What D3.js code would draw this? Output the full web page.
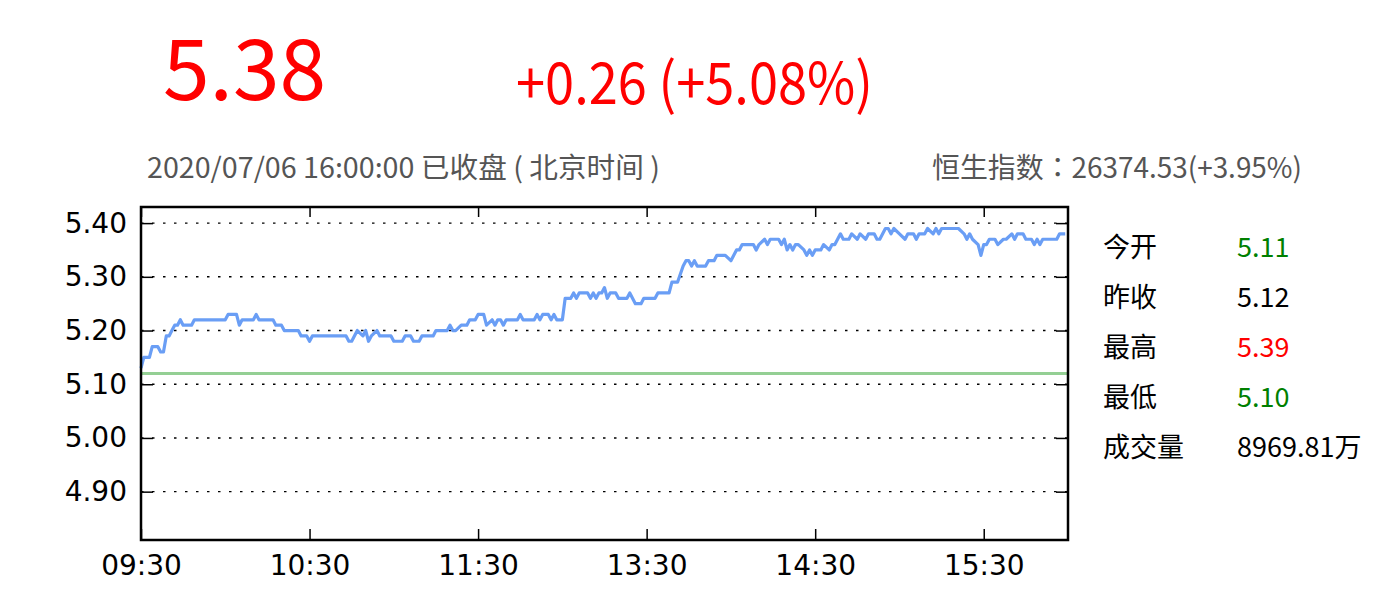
<!DOCTYPE html>
<html>
<head>
<meta charset="utf-8">
<script src="https://cdn.jsdelivr.net/npm/d3@7"></script>
<style>
  body { margin: 0; background: #fff; }
  .cjk { font-family: "Noto Sans CJK SC", "Noto Sans", sans-serif; }
  .cjk-tc { font-family: "Noto Sans CJK TC", "Noto Sans CJK SC", sans-serif; }
  .gfx__axis text { font-family: "DejaVu Sans", sans-serif; font-size: 28px; fill: #000; }
</style>
</head>
<body>
<svg id="quote-chart" width="1400" height="600"></svg>
<script>
// intraday quote, one point per price change
const times = [
  "09:30","09:31","09:33","09:34","09:36","09:37","09:38","09:39","09:40","09:41",
  "09:42","09:43","09:44","09:45","09:48","09:49","10:00","10:01","10:04","10:05",
  "10:06","10:10","10:11","10:12","10:17","10:18","10:20","10:21","10:26","10:27",
  "10:29","10:30","10:31","10:43","10:44","10:45","10:47","10:49","10:50","10:51",
  "10:52","10:54","10:55","10:59","11:00","11:03","11:04","11:06","11:07","11:09",
  "11:10","11:14","11:15","11:19","11:20","11:21","11:22","11:24","11:26","11:27",
  "11:29","11:30","11:32","11:33","11:35","11:36","11:37","11:38","11:39","11:40",
  "11:44","11:45","11:46","11:50","11:51","11:52","11:53","11:55","11:56","11:57",
  "11:58","12:00","13:01","13:03","13:04","13:05","13:06","13:09","13:10","13:11",
  "13:12","13:13","13:14","13:15","13:16","13:17","13:19","13:20","13:23","13:24",
  "13:26","13:28","13:29","13:33","13:34","13:38","13:39","13:41","13:43","13:44",
  "13:45","13:46","13:47","13:48","13:51","13:52","13:54","13:55","13:58","14:00",
  "14:02","14:03","14:04","14:08","14:09","14:10","14:12","14:13","14:14","14:17",
  "14:18","14:19","14:20","14:21","14:22","14:23","14:24","14:26","14:27","14:28",
  "14:29","14:30","14:32","14:33","14:35","14:36","14:37","14:39","14:40","14:42",
  "14:43","14:45","14:46","14:48","14:49","14:51","14:52","14:53","14:55","14:56",
  "14:57","14:58","15:00","15:02","15:03","15:05","15:06","15:07","15:09","15:10",
  "15:12","15:13","15:14","15:15","15:21","15:23","15:24","15:25","15:26","15:28",
  "15:29","15:30","15:31","15:32","15:34","15:35","15:37","15:38","15:40","15:41",
  "15:42","15:44","15:45","15:47","15:48","15:49","15:50","15:51","15:56","15:57",
  "15:59"
];
const prices = [
  5.13,5.15,5.15,5.17,5.17,5.16,5.16,5.19,5.19,5.20,
  5.21,5.21,5.22,5.21,5.21,5.22,5.22,5.23,5.23,5.21,
  5.22,5.22,5.23,5.22,5.22,5.21,5.21,5.20,5.20,5.19,
  5.19,5.18,5.19,5.19,5.18,5.18,5.20,5.19,5.20,5.18,
  5.19,5.20,5.19,5.19,5.18,5.18,5.19,5.19,5.18,5.18,
  5.19,5.19,5.20,5.20,5.21,5.20,5.20,5.21,5.21,5.22,
  5.22,5.23,5.23,5.21,5.22,5.21,5.22,5.22,5.21,5.22,
  5.22,5.23,5.22,5.22,5.23,5.22,5.23,5.23,5.22,5.23,
  5.22,5.22,5.26,5.26,5.27,5.26,5.27,5.27,5.26,5.27,
  5.26,5.27,5.27,5.28,5.26,5.27,5.27,5.26,5.26,5.27,
  5.25,5.25,5.26,5.26,5.27,5.27,5.29,5.29,5.32,5.33,
  5.33,5.32,5.33,5.32,5.32,5.33,5.33,5.34,5.34,5.33,
  5.35,5.35,5.36,5.36,5.35,5.36,5.37,5.36,5.37,5.37,
  5.36,5.37,5.35,5.36,5.35,5.36,5.36,5.35,5.34,5.35,
  5.34,5.35,5.35,5.36,5.35,5.36,5.36,5.38,5.37,5.37,
  5.38,5.37,5.38,5.37,5.38,5.38,5.37,5.37,5.39,5.39,
  5.38,5.39,5.38,5.37,5.38,5.38,5.37,5.38,5.38,5.39,
  5.38,5.39,5.38,5.39,5.39,5.38,5.37,5.38,5.37,5.36,
  5.34,5.36,5.36,5.37,5.37,5.36,5.37,5.37,5.38,5.37,
  5.38,5.38,5.37,5.37,5.36,5.37,5.36,5.37,5.37,5.38,
  5.38
];
const prevClose = 5.12;
const yTicks = [4.90, 5.00, 5.10, 5.20, 5.30, 5.40];
const xTicks = ["09:30", "10:30", "11:30", "13:30", "14:30", "15:30"];

const headline = {price: "5.38", change: "+0.26 (+5.08%)"};
const statusText = "2020/07/06 16:00:00 已收盘 ( 北京时间 )";
const indexText = "恒生指数：26374.53(+3.95%)";
const statLabels = ["今开", "昨收", "最高", "最低", "成交量"];
const statValues = ["5.11", "5.12", "5.39", "5.10", "8969.81万"];
const statColors = ["#008000", "#000000", "#ff0000", "#008000", "#000000"];

const plot = {left: 141, right: 1068, top: 207, bottom: 540};

// minutes since the open, lunch break (12:00-13:00) removed
const toMinute = function(t) {
    const [h, m] = t.split(":").map(Number);
    const mins = h * 60 + m;
    return mins <= 720 ? mins - 570 : mins - 630;
};

const svg = d3.select("#quote-chart");

const scaleX = d3.scaleLinear()
    .domain([0, 330])
    .range([plot.left, plot.right]);
const scaleY = d3.scaleLinear()
    .domain([prevClose - 0.31, prevClose + 0.31])
    .range([plot.bottom, plot.top]);

// header
svg.append("text").attr("class", "cjk")
    .attr("x", 163).attr("y", 100)
    .attr("font-size", 84).attr("fill", "#ff0000")
    .text(headline.price);
svg.append("text").attr("class", "cjk")
    .attr("x", 516).attr("y", 104)
    .attr("font-size", 57).attr("fill", "#ff0000")
    .attr("textLength", 357).attr("lengthAdjust", "spacingAndGlyphs")
    .text(headline.change);
svg.append("text").attr("class", "cjk")
    .attr("x", 147).attr("y", 178)
    .attr("font-size", 28).attr("fill", "#555555")
    .attr("textLength", 513).attr("lengthAdjust", "spacingAndGlyphs")
    .text(statusText);
svg.append("text").attr("class", "cjk-tc")
    .attr("x", 932).attr("y", 178)
    .attr("font-size", 28).attr("fill", "#555555")
    .attr("textLength", 370).attr("lengthAdjust", "spacingAndGlyphs")
    .text(indexText);

// grid
svg.append("g").selectAll("line")
    .data(yTicks).enter()
    .append("line")
        .attr("x1", plot.left).attr("x2", plot.right)
        .attr("y1", d => scaleY(d)).attr("y2", d => scaleY(d))
        .attr("stroke", "#000").attr("stroke-width", 1.4)
        .attr("stroke-dasharray", "2.5,8.5");

// previous close
svg.append("line")
    .attr("x1", plot.left).attr("x2", plot.right)
    .attr("y1", scaleY(prevClose)).attr("y2", scaleY(prevClose))
    .attr("stroke", "#94cf94").attr("stroke-width", 2.8);

// price line
const line = d3.line()
    .x((d, i) => scaleX(toMinute(times[i])))
    .y(d => scaleY(d));
svg.append("path")
    .datum(prices)
    .attr("d", line)
    .attr("fill", "none")
    .attr("stroke", "#6a9ef5")
    .attr("stroke-width", 3.2)
    .attr("stroke-linejoin", "round");

// axes, ticks pointing inward
const tickVals = xTicks.map(toMinute);
svg.append("g").attr("class", "gfx__axis")
    .attr("transform", `translate(0,${plot.bottom})`)
    .call(d3.axisBottom(scaleX).tickValues(tickVals)
        .tickFormat((d, i) => xTicks[i]).tickSize(-11).tickPadding(15))
    .call(g => g.select(".domain").remove());
svg.append("g").attr("class", "gfx__axis")
    .attr("transform", `translate(0,${plot.top})`)
    .call(d3.axisTop(scaleX).tickValues(tickVals)
        .tickFormat("").tickSize(-10))
    .call(g => g.select(".domain").remove());
svg.append("g").attr("class", "gfx__axis")
    .attr("transform", `translate(${plot.left},0)`)
    .call(d3.axisLeft(scaleY).tickValues(yTicks)
        .tickFormat(d3.format(".2f")).tickSize(-12).tickPadding(14))
    .call(g => g.select(".domain").remove());
svg.append("g").attr("class", "gfx__axis")
    .attr("transform", `translate(${plot.right},0)`)
    .call(d3.axisRight(scaleY).tickValues(yTicks)
        .tickFormat("").tickSize(-12))
    .call(g => g.select(".domain").remove());
svg.selectAll(".gfx__axis .tick line").attr("stroke", "#000").attr("stroke-width", 1.5);

svg.append("rect")
    .attr("x", plot.left).attr("y", plot.top)
    .attr("width", plot.right - plot.left).attr("height", plot.bottom - plot.top)
    .attr("fill", "none").attr("stroke", "#000").attr("stroke-width", 2.5);

// stats panel
const stats = svg.append("g").attr("class", "cjk").attr("font-size", 27);
stats.selectAll(".stat-label")
    .data(statLabels).enter()
    .append("text").attr("class", "stat-label")
        .attr("x", 1103).attr("y", (d, i) => 256.7 + i * 50)
        .attr("fill", "#000")
        .text(d => d);
stats.selectAll(".stat-value")
    .data(statValues).enter()
    .append("text").attr("class", "stat-value")
        .attr("x", 1237).attr("y", (d, i) => 256.7 + i * 50)
        .attr("fill", (d, i) => statColors[i])
        .text(d => d);
</script>
</body>
</html>
